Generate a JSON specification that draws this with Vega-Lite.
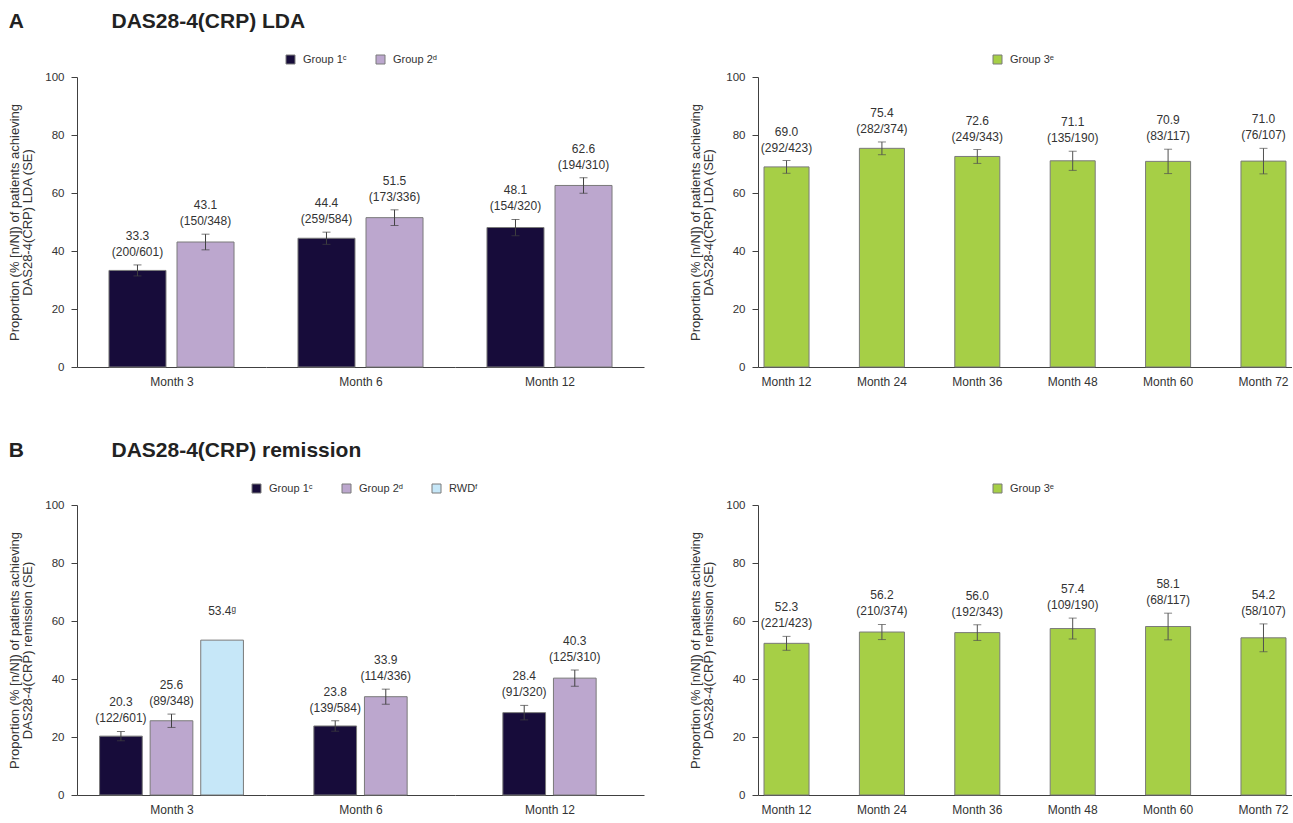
{
  "$schema": "https://vega.github.io/schema/vega-lite/v6.json",
  "padding": {"left": 8, "top": 11, "right": 0, "bottom": 0},
  "config": {
    "font": "Liberation Sans",
    "view": {"stroke": null},
    "axis": {"domainColor": "#404040", "tickColor": "#404040", "labelColor": "#333333", "titleColor": "#333333", "labelFontSize": 11.5, "titleFontWeight": "normal", "grid": false},
    "axisY": {"tickSize": 6, "labelPadding": 7, "titleFontSize": 13, "titlePadding": 10, "titleLineHeight": 13},
    "axisX": {"titleFontSize": 12, "labelFontSize": 12, "tickSize": 0},
    "legend": {"labelFontSize": 11, "labelColor": "#333333", "symbolType": "square", "symbolSize": 81, "labelOffset": 7, "columnPadding": 27, "padding": 0, "symbolStrokeWidth": 1},
    "title": {"fontSize": 21, "fontWeight": "bold", "color": "#222222", "anchor": "start", "frame": "bounds", "offset": 22},
    "text": {"lineBreak": "\n", "lineHeight": 16, "baseline": "bottom", "dy": -22, "fontSize": 12, "color": "#333333"}
  },
  "datasets": {
    "aLeft": [
      {"month": "Month 3", "group": "Group 1ᶜ", "value": 33.3, "lower": 31.4, "upper": 35.2, "label": "33.3\n(200/601)"},
      {"month": "Month 3", "group": "Group 2ᵈ", "value": 43.1, "lower": 40.4, "upper": 45.8, "label": "43.1\n(150/348)"},
      {"month": "Month 6", "group": "Group 1ᶜ", "value": 44.4, "lower": 42.3, "upper": 46.5, "label": "44.4\n(259/584)"},
      {"month": "Month 6", "group": "Group 2ᵈ", "value": 51.5, "lower": 48.8, "upper": 54.2, "label": "51.5\n(173/336)"},
      {"month": "Month 12", "group": "Group 1ᶜ", "value": 48.1, "lower": 45.3, "upper": 50.9, "label": "48.1\n(154/320)"},
      {"month": "Month 12", "group": "Group 2ᵈ", "value": 62.6, "lower": 59.9, "upper": 65.3, "label": "62.6\n(194/310)"}
    ],
    "aRight": [
      {"month": "Month 12", "group": "Group 3ᵉ", "value": 69.0, "lower": 66.8, "upper": 71.2, "label": "69.0\n(292/423)"},
      {"month": "Month 24", "group": "Group 3ᵉ", "value": 75.4, "lower": 73.2, "upper": 77.6, "label": "75.4\n(282/374)"},
      {"month": "Month 36", "group": "Group 3ᵉ", "value": 72.6, "lower": 70.2, "upper": 75.0, "label": "72.6\n(249/343)"},
      {"month": "Month 48", "group": "Group 3ᵉ", "value": 71.1, "lower": 67.8, "upper": 74.4, "label": "71.1\n(135/190)"},
      {"month": "Month 60", "group": "Group 3ᵉ", "value": 70.9, "lower": 66.7, "upper": 75.1, "label": "70.9\n(83/117)"},
      {"month": "Month 72", "group": "Group 3ᵉ", "value": 71.0, "lower": 66.6, "upper": 75.4, "label": "71.0\n(76/107)"}
    ],
    "bLeft": [
      {"month": "Month 3", "group": "Group 1ᶜ", "value": 20.3, "lower": 18.7, "upper": 21.9, "label": "20.3\n(122/601)"},
      {"month": "Month 3", "group": "Group 2ᵈ", "value": 25.6, "lower": 23.3, "upper": 27.9, "label": "25.6\n(89/348)"},
      {"month": "Month 3", "group": "RWDᶠ", "value": 53.4, "lower": 53.4, "upper": 53.4, "label": "53.4ᵍ"},
      {"month": "Month 6", "group": "Group 1ᶜ", "value": 23.8, "lower": 22.0, "upper": 25.6, "label": "23.8\n(139/584)"},
      {"month": "Month 6", "group": "Group 2ᵈ", "value": 33.9, "lower": 31.3, "upper": 36.5, "label": "33.9\n(114/336)"},
      {"month": "Month 12", "group": "Group 1ᶜ", "value": 28.4, "lower": 25.9, "upper": 30.9, "label": "28.4\n(91/320)"},
      {"month": "Month 12", "group": "Group 2ᵈ", "value": 40.3, "lower": 37.5, "upper": 43.1, "label": "40.3\n(125/310)"}
    ],
    "bRight": [
      {"month": "Month 12", "group": "Group 3ᵉ", "value": 52.3, "lower": 49.9, "upper": 54.7, "label": "52.3\n(221/423)"},
      {"month": "Month 24", "group": "Group 3ᵉ", "value": 56.2, "lower": 53.6, "upper": 58.8, "label": "56.2\n(210/374)"},
      {"month": "Month 36", "group": "Group 3ᵉ", "value": 56.0, "lower": 53.3, "upper": 58.7, "label": "56.0\n(192/343)"},
      {"month": "Month 48", "group": "Group 3ᵉ", "value": 57.4, "lower": 53.8, "upper": 61.0, "label": "57.4\n(109/190)"},
      {"month": "Month 60", "group": "Group 3ᵉ", "value": 58.1, "lower": 53.5, "upper": 62.7, "label": "58.1\n(68/117)"},
      {"month": "Month 72", "group": "Group 3ᵉ", "value": 54.2, "lower": 49.4, "upper": 59.0, "label": "54.2\n(58/107)"}
    ]
  },
  "spacing": 53,
  "resolve": {"scale": {"color": "independent"}, "legend": {"color": "independent"}},
  "vconcat": [
    {
      "title": {"text": "A\u00a0\u00a0\u00a0\u00a0\u00a0\u00a0\u00a0\u00a0\u00a0\u00a0\u00a0\u00a0\u00a0\u00a0\u00a0DAS28-4(CRP) LDA"},
      "spacing": 45,
      "resolve": {"scale": {"color": "independent"}, "legend": {"color": "independent"}},
      "hconcat": [
        {
          "spacing": 0,
          "hconcat": [
            {
              "width": 189, "height": 290,
              "data": {"name": "aLeft"},
              "transform": [{"filter": "datum.month === 'Month 3'"}],
              "encoding": {"x": {"field": "group", "type": "nominal", "sort": null, "scale": {"paddingInner": 0.162, "paddingOuter": 0.47}, "axis": {"title": "Month 3", "labels": false, "ticks": false, "titlePadding": 9}}},
              "layer": [
                {"mark": {"type": "bar", "stroke": "#7a7a7a", "strokeWidth": 1},
                 "encoding": {
                   "y": {"field": "value", "type": "quantitative", "scale": {"domain": [0, 100]}, "axis": {"values": [0, 20, 40, 60, 80, 100], "title": ["Proportion (% [n/N]) of patients achieving", "DAS28-4(CRP) LDA (SE)"]}},
                   "color": {"field": "group", "type": "nominal", "scale": {"domain": ["Group 1ᶜ", "Group 2ᵈ"], "range": ["#170C3A", "#BCA7CE"]}, "legend": {"orient": "none", "legendX": 208, "legendY": -23, "direction": "horizontal", "title": null}}
                 }},
                {"mark": {"type": "rule", "color": "#404040"}, "encoding": {"y": {"field": "lower", "type": "quantitative"}, "y2": {"field": "upper"}}},
                {"mark": {"type": "tick", "color": "#404040", "size": 8, "thickness": 1}, "encoding": {"y": {"field": "lower", "type": "quantitative"}}},
                {"mark": {"type": "tick", "color": "#404040", "size": 8, "thickness": 1}, "encoding": {"y": {"field": "upper", "type": "quantitative"}}},
                {"mark": {"type": "text"}, "encoding": {"y": {"field": "upper", "type": "quantitative"}, "text": {"field": "label"}}}
              ]
            },
            {
              "width": 189, "height": 290,
              "data": {"name": "aLeft"},
              "transform": [{"filter": "datum.month === 'Month 6'"}],
              "encoding": {"x": {"field": "group", "type": "nominal", "sort": null, "scale": {"paddingInner": 0.162, "paddingOuter": 0.47}, "axis": {"title": "Month 6", "labels": false, "ticks": false, "titlePadding": 9}}},
              "layer": [
                {"mark": {"type": "bar", "stroke": "#7a7a7a", "strokeWidth": 1},
                 "encoding": {
                   "y": {"field": "value", "type": "quantitative", "scale": {"domain": [0, 100]}, "axis": null},
                   "color": {"field": "group", "type": "nominal", "scale": {"domain": ["Group 1ᶜ", "Group 2ᵈ"], "range": ["#170C3A", "#BCA7CE"]}, "legend": {"orient": "none", "legendX": 208, "legendY": -23, "direction": "horizontal", "title": null}}
                 }},
                {"mark": {"type": "rule", "color": "#404040"}, "encoding": {"y": {"field": "lower", "type": "quantitative", "axis": null}, "y2": {"field": "upper"}}},
                {"mark": {"type": "tick", "color": "#404040", "size": 8, "thickness": 1}, "encoding": {"y": {"field": "lower", "type": "quantitative", "axis": null}}},
                {"mark": {"type": "tick", "color": "#404040", "size": 8, "thickness": 1}, "encoding": {"y": {"field": "upper", "type": "quantitative", "axis": null}}},
                {"mark": {"type": "text"}, "encoding": {"y": {"field": "upper", "type": "quantitative", "axis": null}, "text": {"field": "label"}}}
              ]
            },
            {
              "width": 189, "height": 290,
              "data": {"name": "aLeft"},
              "transform": [{"filter": "datum.month === 'Month 12'"}],
              "encoding": {"x": {"field": "group", "type": "nominal", "sort": null, "scale": {"paddingInner": 0.162, "paddingOuter": 0.47}, "axis": {"title": "Month 12", "labels": false, "ticks": false, "titlePadding": 9}}},
              "layer": [
                {"mark": {"type": "bar", "stroke": "#7a7a7a", "strokeWidth": 1},
                 "encoding": {
                   "y": {"field": "value", "type": "quantitative", "scale": {"domain": [0, 100]}, "axis": null},
                   "color": {"field": "group", "type": "nominal", "scale": {"domain": ["Group 1ᶜ", "Group 2ᵈ"], "range": ["#170C3A", "#BCA7CE"]}, "legend": {"orient": "none", "legendX": 208, "legendY": -23, "direction": "horizontal", "title": null}}
                 }},
                {"mark": {"type": "rule", "color": "#404040"}, "encoding": {"y": {"field": "lower", "type": "quantitative", "axis": null}, "y2": {"field": "upper"}}},
                {"mark": {"type": "tick", "color": "#404040", "size": 8, "thickness": 1}, "encoding": {"y": {"field": "lower", "type": "quantitative", "axis": null}}},
                {"mark": {"type": "tick", "color": "#404040", "size": 8, "thickness": 1}, "encoding": {"y": {"field": "upper", "type": "quantitative", "axis": null}}},
                {"mark": {"type": "text"}, "encoding": {"y": {"field": "upper", "type": "quantitative", "axis": null}, "text": {"field": "label"}}}
              ]
            }
          ]
        },
        {
          "width": 534, "height": 290,
          "data": {"name": "aRight"},
          "encoding": {"x": {"field": "month", "type": "nominal", "sort": null, "scale": {"paddingInner": 0.528, "paddingOuter": 0.063}, "axis": {"title": null, "ticks": false, "labelPadding": 9, "labelAngle": 0}}},
          "layer": [
            {"mark": {"type": "bar", "stroke": "#7a7a7a", "strokeWidth": 1},
             "encoding": {
               "y": {"field": "value", "type": "quantitative", "scale": {"domain": [0, 100]}, "axis": {"values": [0, 20, 40, 60, 80, 100], "title": ["Proportion (% [n/N]) of patients achieving", "DAS28-4(CRP) LDA (SE)"]}},
               "color": {"field": "group", "type": "nominal", "scale": {"domain": ["Group 3ᵉ"], "range": ["#A6CF46"]}, "legend": {"orient": "none", "legendX": 234, "legendY": -23, "direction": "horizontal", "title": null}}
             }},
            {"mark": {"type": "rule", "color": "#505050"}, "encoding": {"y": {"field": "lower", "type": "quantitative"}, "y2": {"field": "upper"}}},
            {"mark": {"type": "tick", "color": "#505050", "size": 8, "thickness": 1}, "encoding": {"y": {"field": "lower", "type": "quantitative"}}},
            {"mark": {"type": "tick", "color": "#505050", "size": 8, "thickness": 1}, "encoding": {"y": {"field": "upper", "type": "quantitative"}}},
            {"mark": {"type": "text"}, "encoding": {"y": {"field": "upper", "type": "quantitative"}, "text": {"field": "label"}}}
          ]
        }
      ]
    },
    {
      "title": {"text": "B\u00a0\u00a0\u00a0\u00a0\u00a0\u00a0\u00a0\u00a0\u00a0\u00a0\u00a0\u00a0\u00a0\u00a0\u00a0DAS28-4(CRP) remission"},
      "spacing": 45,
      "resolve": {"scale": {"color": "independent"}, "legend": {"color": "independent"}},
      "hconcat": [
        {
          "spacing": 0,
          "hconcat": [
            {
              "width": 189, "height": 290,
              "data": {"name": "bLeft"},
              "transform": [{"filter": "datum.month === 'Month 3'"}],
              "encoding": {"x": {"field": "group", "type": "nominal", "sort": null, "scale": {"paddingInner": 0.156, "paddingOuter": 0.446}, "axis": {"title": "Month 3", "labels": false, "ticks": false, "titlePadding": 9}}},
              "layer": [
                {"mark": {"type": "bar", "stroke": "#7a7a7a", "strokeWidth": 1},
                 "encoding": {
                   "y": {"field": "value", "type": "quantitative", "scale": {"domain": [0, 100]}, "axis": {"values": [0, 20, 40, 60, 80, 100], "title": ["Proportion (% [n/N]) of patients achieving", "DAS28-4(CRP) remission (SE)"]}},
                   "color": {"field": "group", "type": "nominal", "scale": {"domain": ["Group 1ᶜ", "Group 2ᵈ", "RWDᶠ"], "range": ["#170C3A", "#BCA7CE", "#C6E7F8"]}, "legend": {"orient": "none", "legendX": 174, "legendY": -22, "direction": "horizontal", "title": null}}
                 }},
                {"transform": [{"filter": "datum.lower < datum.upper"}], "mark": {"type": "rule", "color": "#404040"}, "encoding": {"y": {"field": "lower", "type": "quantitative"}, "y2": {"field": "upper"}}},
                {"transform": [{"filter": "datum.lower < datum.upper"}], "mark": {"type": "tick", "color": "#404040", "size": 8, "thickness": 1}, "encoding": {"y": {"field": "lower", "type": "quantitative"}}},
                {"transform": [{"filter": "datum.lower < datum.upper"}], "mark": {"type": "tick", "color": "#404040", "size": 8, "thickness": 1}, "encoding": {"y": {"field": "upper", "type": "quantitative"}}},
                {"mark": {"type": "text"}, "encoding": {"y": {"field": "upper", "type": "quantitative"}, "text": {"field": "label"}}}
              ]
            },
            {
              "width": 189, "height": 290,
              "data": {"name": "bLeft"},
              "transform": [{"filter": "datum.month === 'Month 6'"}],
              "encoding": {"x": {"field": "group", "type": "nominal", "sort": null, "scale": {"paddingInner": 0.156, "paddingOuter": 0.946}, "axis": {"title": "Month 6", "labels": false, "ticks": false, "titlePadding": 9}}},
              "layer": [
                {"mark": {"type": "bar", "stroke": "#7a7a7a", "strokeWidth": 1},
                 "encoding": {
                   "y": {"field": "value", "type": "quantitative", "scale": {"domain": [0, 100]}, "axis": null},
                   "color": {"field": "group", "type": "nominal", "scale": {"domain": ["Group 1ᶜ", "Group 2ᵈ", "RWDᶠ"], "range": ["#170C3A", "#BCA7CE", "#C6E7F8"]}, "legend": {"orient": "none", "legendX": 174, "legendY": -22, "direction": "horizontal", "title": null}}
                 }},
                {"mark": {"type": "rule", "color": "#404040"}, "encoding": {"y": {"field": "lower", "type": "quantitative", "axis": null}, "y2": {"field": "upper"}}},
                {"mark": {"type": "tick", "color": "#404040", "size": 8, "thickness": 1}, "encoding": {"y": {"field": "lower", "type": "quantitative", "axis": null}}},
                {"mark": {"type": "tick", "color": "#404040", "size": 8, "thickness": 1}, "encoding": {"y": {"field": "upper", "type": "quantitative", "axis": null}}},
                {"mark": {"type": "text"}, "encoding": {"y": {"field": "upper", "type": "quantitative", "axis": null}, "text": {"field": "label"}}}
              ]
            },
            {
              "width": 189, "height": 290,
              "data": {"name": "bLeft"},
              "transform": [{"filter": "datum.month === 'Month 12'"}],
              "encoding": {"x": {"field": "group", "type": "nominal", "sort": null, "scale": {"paddingInner": 0.156, "paddingOuter": 0.946}, "axis": {"title": "Month 12", "labels": false, "ticks": false, "titlePadding": 9}}},
              "layer": [
                {"mark": {"type": "bar", "stroke": "#7a7a7a", "strokeWidth": 1},
                 "encoding": {
                   "y": {"field": "value", "type": "quantitative", "scale": {"domain": [0, 100]}, "axis": null},
                   "color": {"field": "group", "type": "nominal", "scale": {"domain": ["Group 1ᶜ", "Group 2ᵈ", "RWDᶠ"], "range": ["#170C3A", "#BCA7CE", "#C6E7F8"]}, "legend": {"orient": "none", "legendX": 174, "legendY": -22, "direction": "horizontal", "title": null}}
                 }},
                {"mark": {"type": "rule", "color": "#404040"}, "encoding": {"y": {"field": "lower", "type": "quantitative", "axis": null}, "y2": {"field": "upper"}}},
                {"mark": {"type": "tick", "color": "#404040", "size": 8, "thickness": 1}, "encoding": {"y": {"field": "lower", "type": "quantitative", "axis": null}}},
                {"mark": {"type": "tick", "color": "#404040", "size": 8, "thickness": 1}, "encoding": {"y": {"field": "upper", "type": "quantitative", "axis": null}}},
                {"mark": {"type": "text"}, "encoding": {"y": {"field": "upper", "type": "quantitative", "axis": null}, "text": {"field": "label"}}}
              ]
            }
          ]
        },
        {
          "width": 534, "height": 290,
          "data": {"name": "bRight"},
          "encoding": {"x": {"field": "month", "type": "nominal", "sort": null, "scale": {"paddingInner": 0.528, "paddingOuter": 0.063}, "axis": {"title": null, "ticks": false, "labelPadding": 9, "labelAngle": 0}}},
          "layer": [
            {"mark": {"type": "bar", "stroke": "#7a7a7a", "strokeWidth": 1},
             "encoding": {
               "y": {"field": "value", "type": "quantitative", "scale": {"domain": [0, 100]}, "axis": {"values": [0, 20, 40, 60, 80, 100], "title": ["Proportion (% [n/N]) of patients achieving", "DAS28-4(CRP) remission (SE)"]}},
               "color": {"field": "group", "type": "nominal", "scale": {"domain": ["Group 3ᵉ"], "range": ["#A6CF46"]}, "legend": {"orient": "none", "legendX": 234, "legendY": -22, "direction": "horizontal", "title": null}}
             }},
            {"mark": {"type": "rule", "color": "#505050"}, "encoding": {"y": {"field": "lower", "type": "quantitative"}, "y2": {"field": "upper"}}},
            {"mark": {"type": "tick", "color": "#505050", "size": 8, "thickness": 1}, "encoding": {"y": {"field": "lower", "type": "quantitative"}}},
            {"mark": {"type": "tick", "color": "#505050", "size": 8, "thickness": 1}, "encoding": {"y": {"field": "upper", "type": "quantitative"}}},
            {"mark": {"type": "text"}, "encoding": {"y": {"field": "upper", "type": "quantitative"}, "text": {"field": "label"}}}
          ]
        }
      ]
    }
  ]
}
